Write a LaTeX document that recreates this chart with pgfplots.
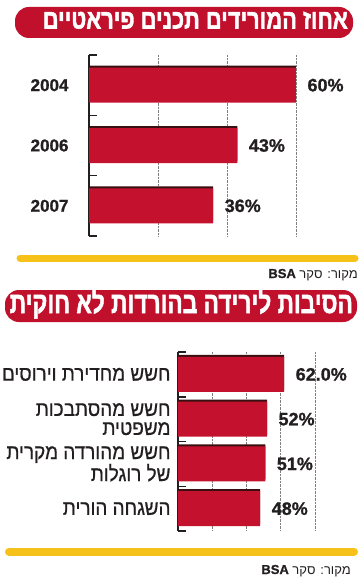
\documentclass[border=0pt]{standalone}
\usepackage{fontspec}
\setmainfont{Liberation Sans}
\newfontfamily\heb[Script=Hebrew]{Liberation Sans}
\newfontfamily\hebheavy[Script=Hebrew, FakeBold=2]{Liberation Sans Bold}
\newfontfamily\hebmed[Script=Hebrew, FakeBold=0.7, FakeStretch=0.9]{Liberation Sans}
\newfontfamily\heavy[FakeBold=1]{Liberation Sans Bold}
\usepackage{graphicx}
\usepackage{pgfplots}
\pgfplotsset{compat=1.18}
\usepackage{pgfplotstable}
\TeXXeTstate=1
\definecolor{barred}{HTML}{C4122E}
\definecolor{shadowc}{HTML}{3A0F12}
\definecolor{banner}{HTML}{C0102C}
\definecolor{yel}{HTML}{F6C21A}
\definecolor{txt}{HTML}{231F20}

\pgfplotstableread{
y val lab
0 60 60\%
1 43 43\%
2 36 36\%
}\tA
\pgfplotstableread{
y val lab
0 62 62.0\%
1 52 52\%
2 51 51\%
3 48 48\%
}\tB

\pgfplotsset{
  mybar/.style={
    scale only axis, xbar, bar width=35pt,
    xmin=0, y dir=reverse,
    axis lines*=left, axis line style={-},
    x axis line style={draw=none},
    y axis line style={line width=1.8pt, color=txt},
    xmajorgrids, grid style={densely dotted, gray, line width=0.8pt},
    xticklabels={}, xtick style={draw=none},
    major y tick style={draw=none},
    minor tick length=8pt, tick align=inside,
    minor y tick style={line width=1.5pt, color=txt},
    clip=false,
  },
  vlab/.style={nodes near coords, point meta=explicit symbolic,
    every node near coord/.append style={font=\heavy\fontsize{18}{18}\selectfont, text=txt, anchor=west, xshift=8pt}},
}

\begin{document}
\begin{tikzpicture}
\useasboundingbox (0pt,0pt) rectangle (360pt,-585pt);
% banner 1
\fill[banner, rounded corners=14pt] (15pt,-7pt) rectangle (353pt,-38pt);
\node[anchor=base east, inner sep=0pt, text=white] at (348pt,-28.5pt)
  {\resizebox{305pt}{\height}{\hebheavy\fontsize{27}{27}\selectfont\beginR אחוז המורידים תכנים פיראטיים\endR}};

\begin{axis}[mybar, at={(89pt,-55pt)}, anchor=north west,
  width=207pt, height=181pt, xmax=60, ymin=-0.5, ymax=2.5,
  xtick={20,40,60},
  ytick={0,1,2}, yticklabels={2004,2006,2007},
  minor ytick={-0.5,0.5,1.5,2.5},
  yticklabel style={font=\heavy\fontsize{17}{17}\selectfont, text=txt, xshift=-17pt},
]
\addplot[fill=shadowc, draw=none, bar shift=2pt] table[x=val, y=y] {\tA};
\addplot[fill=barred, draw=none, bar shift=0pt, vlab] table[x=val, y=y, meta=lab] {\tA};
\end{axis}

\draw[yel, line width=7pt, line cap=round] (20pt,-258pt) -- (355pt,-258pt);
\node[anchor=base east, inner sep=0pt, text=txt] at (358pt,-278pt)
  {\heb\fontsize{13}{13}\selectfont\beginR מקור: סקר \beginL{\heavy BSA}\endL\endR};

% banner 2
\fill[banner, rounded corners=14pt] (5pt,-290pt) rectangle (357pt,-322pt);
\node[anchor=base east, inner sep=0pt, text=white] at (353pt,-313pt)
  {\resizebox{343pt}{\height}{\hebheavy\fontsize{30}{30}\selectfont\beginR הסיבות לירידה בהורדות לא חוקית\endR}};

\begin{axis}[mybar, at={(178pt,-352pt)}, anchor=north west,
  width=137pt, height=179pt, xmax=80, ymin=-0.5, ymax=3.5,
  xtick={20,40,60,80},
  ytick={0,1,2,3},
  yticklabels={{\beginR חשש מחדירת וירוסים\endR},
    {\beginR חשש מהסתבכות\endR\\\beginR משפטית\endR},
    {\beginR חשש מהורדה מקרית\endR\\\beginR של רוגלות\endR},
    {\beginR השגחה הורית\endR}},
  minor ytick={-0.5,0.5,1.5,2.5,3.5},
  yticklabel style={font=\hebmed\fontsize{21}{19}\selectfont, text=txt, align=right, xshift=-4pt},
]
\addplot[fill=shadowc, draw=none, bar shift=2pt] table[x=val, y=y] {\tB};
\addplot[fill=barred, draw=none, bar shift=0pt, vlab] table[x=val, y=y, meta=lab] {\tB};
\end{axis}

\draw[yel, line width=8pt, line cap=round] (9pt,-551.5pt) -- (354pt,-551.5pt);
\node[anchor=base east, inner sep=0pt, text=txt] at (351pt,-574pt)
  {\heb\fontsize{13}{13}\selectfont\beginR מקור: סקר \beginL{\heavy BSA}\endL\endR};
\end{tikzpicture}
\end{document}
